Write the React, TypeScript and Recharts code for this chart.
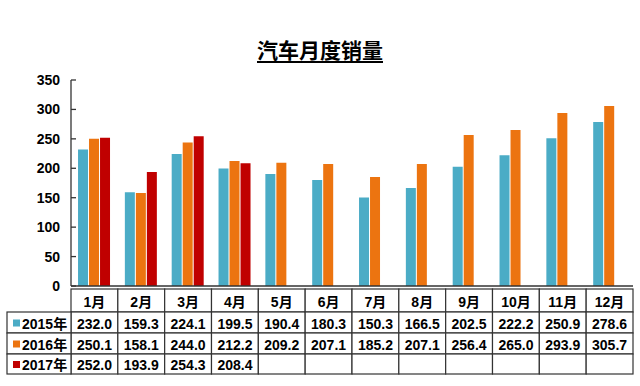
import { BarChart, Bar, XAxis, YAxis } from 'recharts'

const MONTHS = ['1月', '2月', '3月', '4月', '5月', '6月', '7月', '8月', '9月', '10月', '11月', '12月']
const SALES_2015 = [232.0, 159.3, 224.1, 199.5, 190.4, 180.3, 150.3, 166.5, 202.5, 222.2, 250.9, 278.6]
const SALES_2016 = [250.1, 158.1, 244.0, 212.2, 209.2, 207.1, 185.2, 207.1, 256.4, 265.0, 293.9, 305.7]
const SALES_2017: (number | null)[] = [252.0, 193.9, 254.3, 208.4, null, null, null, null, null, null, null, null]
const Y_TICKS = [0, 50, 100, 150, 200, 250, 300, 350]

const SERIES = [
  { key: 'y2015', label: '2015年', color: '#4BACC6', values: SALES_2015 },
  { key: 'y2016', label: '2016年', color: '#EC7410', values: SALES_2016 },
  { key: 'y2017', label: '2017年', color: '#C00000', values: SALES_2017 },
]

const W = 640
const H = 386
const MARGIN = { top: 80, right: 7, left: 0, bottom: 0 }
const Y_W = 71
const CAT_W = (W - MARGIN.left - MARGIN.right - Y_W) / MONTHS.length
const ROW_H = [23, 21, 21, 20]
const LEGEND_W = 64
const FONT = "Arial, 'Liberation Sans', 'Noto Sans CJK SC', sans-serif"
const GRID = '#333'

const data = MONTHS.map((m, i) => ({
  month: m,
  y2015: SALES_2015[i],
  y2016: SALES_2016[i],
  y2017: SALES_2017[i],
}))

function YTick(props: any) {
  const { x, y, payload } = props
  return (
    <g>
      <line x1={x + 11} x2={x + 16} y1={y} y2={y} stroke={GRID} strokeWidth={1.3} />
      <text x={x} y={y} textAnchor="end" dominantBaseline="central"
        fontFamily={FONT} fontWeight="bold" fontSize={14} fill="#000">
        {payload.value}
      </text>
    </g>
  )
}

function TableTick(props: any) {
  const { x, y, payload } = props
  const i = MONTHS.indexOf(payload.value)
  const left = x - CAT_W / 2
  const tops: number[] = []
  let cy = y + 3
  ROW_H.forEach(h => { tops.push(cy); cy += h })
  const cells = [payload.value, ...SERIES.map(s => (s.values[i] == null ? '' : (s.values[i] as number).toFixed(1)))]
  return (
    <g fontFamily={FONT} fontWeight="bold" fontSize={14}>
      {cells.map((t, r) => (
        <g key={r}>
          <rect x={left} y={tops[r]} width={CAT_W} height={ROW_H[r]} fill="#fff" stroke={GRID} strokeWidth={1.2} />
          <text x={x} y={tops[r] + ROW_H[r] / 2 + 1} textAnchor="middle" dominantBaseline="central" fill="#000">{t}</text>
        </g>
      ))}
      {i === 0 && SERIES.map((s, r) => (
        <g key={s.key}>
          <rect x={left - LEGEND_W} y={tops[r + 1]} width={LEGEND_W} height={ROW_H[r + 1]} fill="#fff" stroke={GRID} strokeWidth={1.2} />
          <rect x={left - LEGEND_W + 6} y={tops[r + 1] + ROW_H[r + 1] / 2 - 3} width={7} height={7} fill={s.color} />
          <text x={left - LEGEND_W + 15} y={tops[r + 1] + ROW_H[r + 1] / 2 + 1} dominantBaseline="central" fill="#000">{s.label}</text>
        </g>
      ))}
    </g>
  )
}

export default function App() {
  return (
    <div style={{ position: 'absolute', left: 0, top: 0, width: W, height: H, background: '#fff' }}>
      <div style={{
        position: 'absolute', left: 0, width: W, top: 37, textAlign: 'center',
        fontFamily: "'Noto Sans CJK SC', sans-serif", fontWeight: 'bold', fontSize: 21,
        lineHeight: '24px', textDecoration: 'underline', textUnderlineOffset: 3, color: '#000',
      }}>
        汽车月度销量
      </div>
      <BarChart width={W} height={H} data={data} margin={MARGIN} barCategoryGap="15%" barGap={1}>
        <YAxis width={Y_W} domain={[0, 350]} ticks={Y_TICKS} tickSize={0} tickMargin={11}
          axisLine={{ stroke: GRID, strokeWidth: 1.3 }} tickLine={false} tick={<YTick />} />
        <XAxis dataKey="month" height={H - 286} interval={0} tickSize={0} tickMargin={0}
          axisLine={{ stroke: GRID, strokeWidth: 1.3 }} tickLine={false} tick={<TableTick />} />
        {SERIES.map(s => (
          <Bar key={s.key} dataKey={s.key} fill={s.color} isAnimationActive={false} />
        ))}
      </BarChart>
    </div>
  )
}
